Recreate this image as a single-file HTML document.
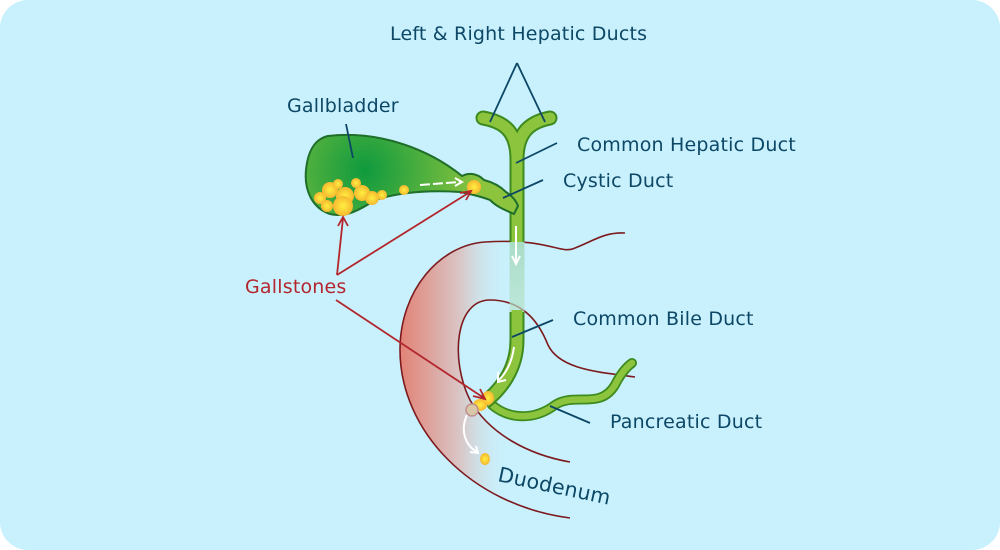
<!DOCTYPE html>
<html><head><meta charset="utf-8"><style>
html,body{margin:0;padding:0;background:#fff;}
svg{display:block;}
text{font-family:"DejaVu Sans","Liberation Sans",sans-serif;font-size:19px;fill:#0d4766;letter-spacing:0.2px;}
</style></head><body>
<svg width="1000" height="550" viewBox="0 0 1000 550" xmlns="http://www.w3.org/2000/svg">
<defs>
<linearGradient id="duo" x1="400" y1="0" x2="510" y2="0" gradientUnits="userSpaceOnUse">
<stop offset="0" stop-color="#e28276"/><stop offset="0.55" stop-color="#d9c6c6"/><stop offset="1" stop-color="#c8f1fd" stop-opacity="0"/>
</linearGradient>
<radialGradient id="gb" cx="365" cy="170" r="115" gradientUnits="userSpaceOnUse">
<stop offset="0" stop-color="#0f9a3e"/><stop offset="1" stop-color="#8cc43e"/>
</radialGradient>
<linearGradient id="fade" x1="0" y1="240" x2="0" y2="320" gradientUnits="userSpaceOnUse">
<stop offset="0" stop-color="#a8dcc6"/><stop offset="1" stop-color="#b7e2c6" stop-opacity="0.6"/>
</linearGradient>
<radialGradient id="st"><stop offset="0" stop-color="#ffef40"/><stop offset="1" stop-color="#f6b830"/></radialGradient>
</defs>
<rect x="0" y="0" width="1000" height="550" rx="28" fill="#c8f1fd"/>

<path d="M485,242 C550,238 560,255 575,248 C595,240 605,232 625,233 L625,300 L635,377 C600,372 560,370 548,345 C540,325 525,300 490,300 C455,300 450,360 470,400 C490,435 530,455 570,462 L570,518 C470,505 400,430 400,350 C400,290 440,245 485,242 Z" fill="url(#duo)"/>
<path d="M485,242 C550,238 560,255 575,248 C595,240 605,232 625,233" fill="none" stroke="#7d1a1e" stroke-width="1.6"/>
<path d="M570,518 C470,505 400,430 400,350 C400,290 440,245 485,242" fill="none" stroke="#7d1a1e" stroke-width="1.6"/>
<path d="M570,462 C530,455 490,435 470,400 C450,360 455,300 490,300 C525,300 540,325 548,345 C560,370 600,372 635,377" fill="none" stroke="#7d1a1e" stroke-width="1.6"/>

<path d="M492,405 C510,420 535,420 555,405 C575,392 600,410 615,385 C620,375 625,368 632,363" fill="none" stroke="#3d8a1e" stroke-width="10" stroke-linecap="round"/>
<path d="M492,405 C510,420 535,420 555,405 C575,392 600,410 615,385 C620,375 625,368 632,363" fill="none" stroke="#8cc43e" stroke-width="6.5" stroke-linecap="round"/>

<path d="M483,118 C505,122 517,132 517,160 L517,240" fill="none" stroke="#3d8a1e" stroke-width="15" stroke-linecap="round"/>
<path d="M550,118 C530,122 517,132 517,160" fill="none" stroke="#3d8a1e" stroke-width="15" stroke-linecap="round"/>
<path d="M483,118 C505,122 517,132 517,160 L517,242" fill="none" stroke="#8cc43e" stroke-width="11" stroke-linecap="round"/>
<path d="M550,118 C530,122 517,132 517,160" fill="none" stroke="#8cc43e" stroke-width="11" stroke-linecap="round"/>
<path d="M517,242 L517,312" stroke="url(#fade)" stroke-width="15" fill="none"/>
<path d="M517,312 L517,340 C517,370 500,390 485,402" fill="none" stroke="#3d8a1e" stroke-width="15"/>
<path d="M517,310 L517,340 C517,370 500,390 485,402" fill="none" stroke="#8cc43e" stroke-width="11"/>

<!-- gallbladder + cystic duct -->
<path d="M328,136 C380,130 430,150 462,176 C470,172 478,174 484,180 C492,182 500,186 506,192 C512,196 516,200 518,206 L514,214 C505,210 497,207 490,200 C480,196 470,194 460,192 C430,190 400,192 375,200 C360,210 345,218 330,214 C312,208 304,190 306,170 C308,150 315,139 328,136 Z" fill="url(#gb)" stroke="#1f6e2a" stroke-width="2"/>
<g fill="url(#st)">
<circle cx="330" cy="190" r="8"/><circle cx="345" cy="196" r="9"/><circle cx="362" cy="193" r="8"/><circle cx="320" cy="198" r="6"/><circle cx="343" cy="206" r="10"/><circle cx="327" cy="206" r="6"/><circle cx="372" cy="198" r="7"/><circle cx="382" cy="195" r="5"/><circle cx="338" cy="184" r="5"/><circle cx="356" cy="183" r="5"/><circle cx="404" cy="190" r="5"/><circle cx="474" cy="187" r="7"/>
<ellipse cx="488" cy="398" rx="6" ry="7"/><ellipse cx="480" cy="405" rx="7" ry="6"/><ellipse cx="485" cy="459" rx="5" ry="6"/>
</g>
<circle cx="472" cy="410" r="6" fill="#d8c8a8" stroke="#c09090" stroke-width="1.5"/>

<g stroke="#fff" stroke-width="2" fill="none">
<path d="M420,185 L460,182" stroke-dasharray="10,3"/><path d="M455,178 L462,182 L455,186"/>
<path d="M516,226 L516,262"/><path d="M512,256 L516,264 L520,256"/>
<path d="M514,347 C512,362 507,372 499,380"/><path d="M498,372 L498,382 L506,380"/>
<path d="M467,415 C460,430 465,445 477,452"/><path d="M470,452 L478,453 L476,446"/>
</g>

<g stroke="#b3262d" stroke-width="1.8" fill="none">
<path d="M337,275 L343,218"/><path d="M338,226 L343,217 L348,226"/>
<path d="M337,275 L470,192"/><path d="M460,193 L471,191 L466,200"/>
<path d="M336,300 L484,398"/><path d="M473,396 L485,399 L480,389"/>
</g>
<text x="245" y="293" style="fill:#b3262d">Gallstones</text>

<g stroke="#0d4766" stroke-width="1.8">
<path d="M517,63 L490,122 M517,63 L545,122"/>
<path d="M346,124 L353,158"/>
<path d="M557,143 L516,163"/>
<path d="M543,180 L503,198"/>
<path d="M553,320 L512,337"/>
<path d="M550,406 L590,423"/>
</g>

<text x="390" y="40">Left &amp; Right Hepatic Ducts</text>
<text x="287" y="112">Gallbladder</text>
<text x="577" y="151">Common Hepatic Duct</text>
<text x="563" y="187">Cystic Duct</text>
<text x="573" y="325">Common Bile Duct</text>
<text x="610" y="428">Pancreatic Duct</text>
<text x="0" y="0" transform="translate(497,481) rotate(12)" style="font-size:20.5px">Duodenum</text>
</svg>
</body></html>
